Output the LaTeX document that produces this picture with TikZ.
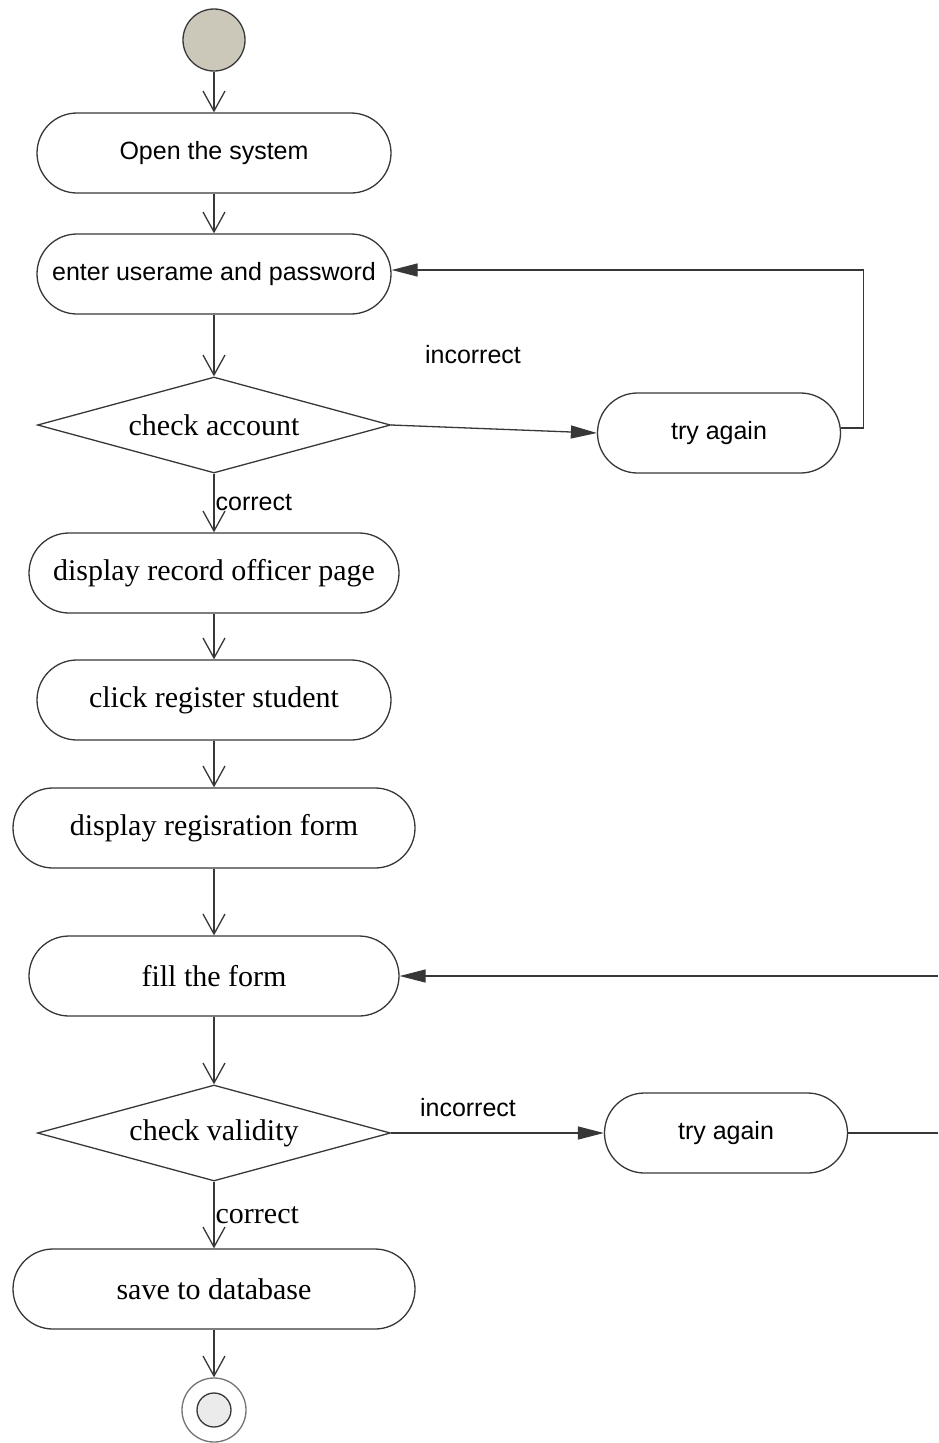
\documentclass[tikz,border=0pt]{standalone}
\usepackage{fontspec}
\setmainfont{Liberation Serif}
\setsansfont{Liberation Sans}
\usetikzlibrary{shapes.geometric,arrows.meta}

\definecolor{startgray}{RGB}{203,200,185}
\definecolor{endgray}{RGB}{235,235,235}
\definecolor{linegray}{RGB}{55,55,55}

\newcommand{\bigserif}{\rmfamily\fontsize{30}{36}\selectfont}
\newcommand{\bigsans}{\sffamily\fontsize{25}{30}\selectfont}

\tikzstyle{act}=[shape=rectangle,
                 rounded corners=40pt,
                 draw=linegray,
                 line width=1.3pt,
                 minimum height=80pt,
                 font=\bigserif]
\tikzstyle{actsf}=[act,
                   font=\bigsans]
\tikzstyle{dec}=[shape=diamond,
                 aspect=3.68,
                 draw=linegray,
                 line width=1.3pt,
                 minimum width=353pt,
                 minimum height=96pt,
                 inner sep=0pt,
                 font=\bigserif]
\tikzstyle{ini}=[shape=circle,
                 draw=linegray,
                 fill=startgray,
                 line width=1.3pt,
                 minimum size=62pt]
\tikzstyle{fin}=[shape=circle,
                 draw=linegray!70,
                 line width=1.3pt,
                 minimum size=64pt]
\tikzstyle{finin}=[shape=circle,
                   draw=linegray,
                   fill=endgray,
                   line width=1.3pt,
                   minimum size=34pt]
\tikzstyle{flow}=[-{Straight Barb[length=20pt,width=22pt]},
                  draw=linegray,
                  line width=1.3pt]
\tikzstyle{back}=[-{Triangle[length=26pt,width=13pt]},
                  draw=linegray,
                  line width=1.3pt]
\tikzstyle{lblsf}=[font=\bigsans, inner sep=1pt]
\tikzstyle{lbl}=[font=\bigserif, inner sep=1pt]

\begin{document}
\begin{tikzpicture}[x=1pt,y=-1pt]
\useasboundingbox (0,0) rectangle (938,1443);

% start and login
\node[ini] (start) at (214,40) {};
\node[actsf, minimum width=354] (open) at (214,153) {Open the system};
\node[actsf, minimum width=354] (login) at (214,274) {enter userame and password};
\node[dec] (chkacc) at (214,425) {check account};
\node[actsf, minimum width=243] (retry1) at (719,433) {try again};
\node[lblsf] (nolbl1) at (473,355) {incorrect};

% registration
\node[act, minimum width=370] (officer) at (214,573) {display record officer page};
\node[act, minimum width=354] (regbtn) at (214,700) {click register student};
\node[act, minimum width=402] (regform) at (214,828) {display regisration form};
\node[act, minimum width=370] (fill) at (214,976) {fill the form};
\node[dec] (chkval) at (214,1133) {check validity};
\node[actsf, minimum width=243] (retry2) at (726,1133) {try again};
\node[lblsf] (nolbl2) at (468,1108) {incorrect};
\node[act, minimum width=402] (save) at (214,1289) {save to database};

% end
\node[fin] (stop) at (214,1410) {};
\node[finin] (stopdot) at (214,1410) {};

% loose ends at the right border
\coordinate (rimout) at (938,1133);
\coordinate (rimin) at (938,976);

% paths
\path[flow] (start) edge (open)
            (open) edge (login)
            (login) edge (chkacc)
            (chkacc) edge node[lblsf, right] {correct} (officer)
            (officer) edge (regbtn)
            (regbtn) edge (regform)
            (regform) edge (fill)
            (fill) edge (chkval)
            (chkval) edge node[lbl, right] {correct} (save)
            (save) edge (stop);

\draw[back] (chkacc.east) -- (retry1.west);
\draw[back] ([yshift=5pt]retry1.east) -- ++(22,0) |- ([yshift=4pt]login.east);
\draw[back] (chkval.east) -- (retry2.west);
\draw[draw=linegray, line width=1.3pt] (retry2.east) -- (rimout);
\draw[back] (rimin) -- (fill.east);
\end{tikzpicture}
\end{document}
